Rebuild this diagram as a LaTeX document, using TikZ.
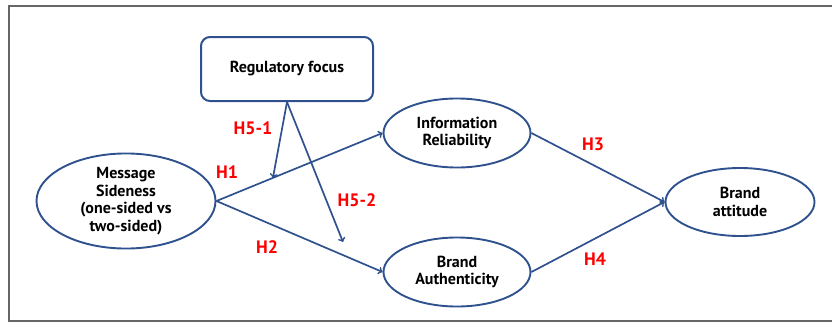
\documentclass[tikz,border=0pt]{standalone}
\usepackage{fontspec}
\setmainfont{PT Sans}
\usetikzlibrary{arrows,positioning,calc}
\usetikzlibrary{shapes}

\definecolor{linkblue}{RGB}{47,82,143}
\definecolor{hred}{RGB}{255,0,0}

\begin{document}
\begin{tikzpicture}[x=1pt,y=-1pt,
    var/.style={draw=linkblue,line width=1.9pt,ellipse,inner sep=0pt,align=center,font=\fontsize{16}{17.5}\selectfont\bfseries},
    hyp/.style={text=hred,font=\fontsize{18}{18}\selectfont\bfseries},
    link/.style={draw=linkblue,line width=1.7pt,->}]
      \useasboundingbox (0,0) rectangle (832,322);
      \draw[gray!80!black,line width=1.2pt] (832,6) -- (9,6) -- (9,321) -- (832,321);

      \node[draw=linkblue,line width=2pt,rectangle,rounded corners=9pt,minimum width=172pt,minimum height=64pt,font=\fontsize{16}{17.5}\selectfont\bfseries] (rf) at (287,69) {Regulatory focus};

      \node[var,minimum width=179pt,minimum height=82pt] (ms) at (126,201) {Message\\Sideness\\(one-sided vs\\two-sided)};
      \node[var,minimum width=147pt,minimum height=69pt] (ir) at (457,133) {Information\\Reliability};
      \node[var,minimum width=147pt,minimum height=69pt] (ba) at (457,272) {Brand\\Authenticity};
      \node[var,minimum width=149pt,minimum height=68pt] (att) at (740,202) {Brand\\attitude};

      \draw[link] (ms.east)--(ir.west);
      \draw[link] (ms.east)--(ba.west);
      \draw[link] (ir.east)--(att.west);
      \draw[link] (ba.east)--(att.west);

      \coordinate (m1) at ($(ms.east)!0.34!(ir.west)$);
      \coordinate (m2) at (343,242);
      \draw[link] (rf.south)--(m1);
      \draw[link] (rf.south)--(m2);

      \node[hyp] (h51) at (253,128) {H5-1};
      \node[hyp] (h1) at (227,172) {H1};
      \node[hyp] (h52) at (357,200) {H5-2};
      \node[hyp] (h2) at (267,247) {H2};
      \node[hyp] (h3) at (593,144) {H3};
      \node[hyp] (h4) at (595,259) {H4};
\end{tikzpicture}
\end{document}
